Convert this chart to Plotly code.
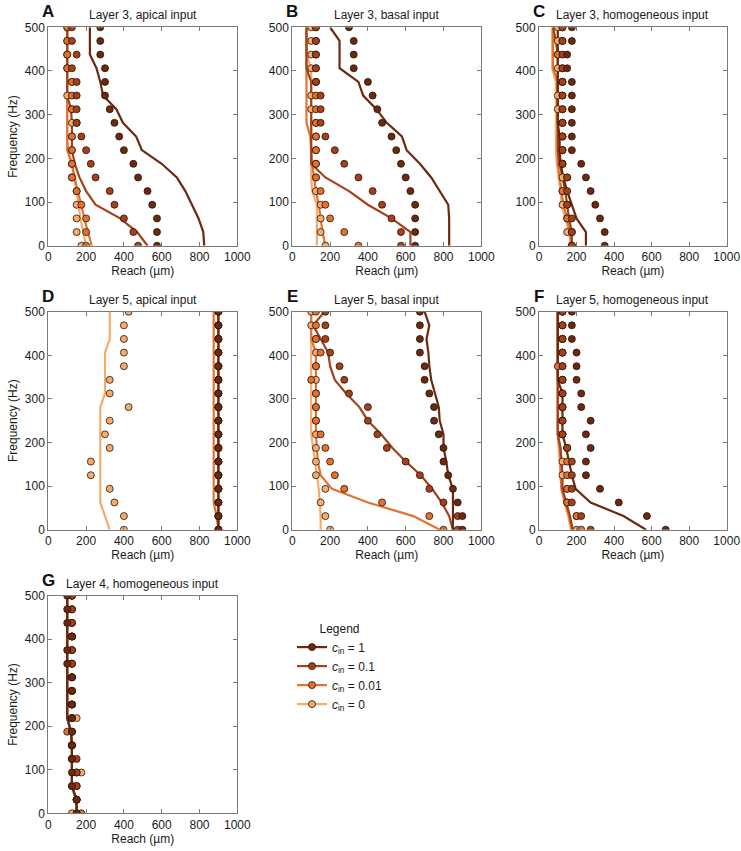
import plotly.graph_objects as go

FREQ = [0, 31.25, 62.5, 93.75, 125, 156.25, 187.5, 218.75, 250, 281.25,
        312.5, 343.75, 375, 406.25, 437.5, 468.75, 500]
CIN_LABELS = ["1", "0.1", "0.01", "0"]
COLORS = ["#6b2a0f", "#a3421a", "#e3722f", "#f4ac6e"]
X_TICKS = [0, 200, 400, 600, 800, 1000]
Y_TICKS = [0, 100, 200, 300, 400, 500]

# ---- Panel A: Layer 3, apical input
A_LINE_1 = [825, 820, 795, 760, 725, 680, 600, 495, 465, 395, 360, 290, 275, 255, 220, 220, 220]
A_LINE_2 = [525, 470, 380, 250, 200, 165, 140, 125, 125, 125, 120, 100, 100, 100, 100, 100, 100]
A_LINE_3 = [230, 210, 190, 175, 155, 140, 125, 100, 100, 100, 100, 100, 100, 100, 100, 100, 100]
A_LINE_4 = [200, 185, 170, 160, 150, 135, 125, 105, 100, 100, 100, 100, 100, 100, 100, 100, 100]
A_DOT_1 = [575, 575, 575, 550, 525, 475, 450, 400, 375, 350, 325, 300, 300, 300, 275, 275, 275]
A_DOT_2 = [475, 450, 400, 350, 325, 250, 225, 200, 175, 150, 150, 150, 150, 125, 150, 125, 125]
A_DOT_3 = [200, 200, 200, 175, 150, 125, 125, 125, 125, 150, 125, 125, 125, 100, 100, 100, 100]
A_DOT_4 = [175, 150, 150, 150, 150, 125, 125, 125, 125, 125, 125, 100, 125, 100, 100, 100, 100]

# ---- Panel B: Layer 3, basal input
B_LINE_1 = [830, 830, 830, 825, 780, 735, 675, 605, 580, 500, 445, 375, 350, 250, 250, 250, 200]
B_LINE_2 = [625, 625, 525, 400, 300, 175, 100, 100, 100, 100, 100, 100, 100, 75, 75, 75, 75]
B_LINE_3 = [175, 160, 150, 140, 125, 115, 105, 100, 95, 75, 75, 75, 75, 75, 75, 75, 75]
B_LINE_4 = [130, 130, 130, 130, 105, 100, 100, 100, 100, 100, 100, 100, 100, 100, 75, 75, 75]
B_DOT_1 = [650, 650, 650, 650, 625, 600, 575, 550, 525, 475, 450, 425, 400, 325, 325, 325, 300]
B_DOT_2 = [575, 575, 525, 475, 425, 350, 275, 225, 175, 150, 150, 150, 125, 125, 125, 125, 125]
B_DOT_3 = [350, 275, 200, 175, 150, 125, 125, 125, 125, 125, 125, 125, 125, 125, 125, 125, 125]
B_DOT_4 = [175, 150, 150, 150, 125, 125, 125, 125, 125, 125, 100, 100, 125, 100, 100, 100, 100]

# ---- Panel C: Layer 3, homogeneous input
C_LINE_1 = [250, 250, 200, 175, 150, 130, 115, 110, 110, 100, 100, 100, 100, 100, 100, 100, 100]
C_LINE_2 = [175, 175, 160, 150, 140, 125, 110, 100, 100, 100, 100, 100, 100, 100, 100, 90, 75]
C_LINE_3 = [175, 165, 150, 130, 120, 110, 100, 100, 100, 100, 100, 100, 100, 75, 75, 75, 75]
C_LINE_4 = [170, 160, 140, 120, 115, 105, 95, 90, 90, 90, 90, 90, 90, 70, 70, 70, 70]
C_DOT_1 = [350, 350, 325, 300, 275, 250, 225, 175, 175, 175, 175, 175, 175, 150, 150, 175, 175]
C_DOT_2 = [175, 175, 175, 150, 150, 150, 125, 125, 125, 125, 125, 125, 125, 125, 125, 125, 125]
C_DOT_3 = [175, 175, 150, 150, 125, 150, 125, 125, 125, 125, 125, 125, 125, 125, 100, 125, 125]
C_DOT_4 = [175, 150, 150, 125, 125, 125, 125, 125, 125, 125, 100, 100, 125, 100, 100, 100, 100]

# ---- Panel D: Layer 5, apical input
D_LINE_1 = [900, 900, 900, 900, 900, 900, 900, 900, 900, 900, 900, 900, 900, 900, 900, 900, 900]
D_LINE_2 = [900, 900, 900, 900, 900, 900, 900, 900, 900, 900, 900, 900, 900, 900, 900, 900, 900]
D_LINE_3 = [900, 890, 875, 875, 875, 875, 875, 875, 875, 875, 875, 875, 875, 875, 875, 875, 875]
D_LINE_4 = [325, 300, 275, 275, 275, 275, 275, 275, 275, 275, 300, 300, 300, 300, 325, 325, 325]
D_DOT_1 = [900, 900, 900, 900, 900, 900, 900, 900, 900, 900, 900, 900, 900, 900, 900, 900, 900]
D_DOT_2 = [900, 900, 900, 900, 900, 900, 900, 900, 900, 900, 900, 900, 900, 900, 900, 900, 900]
D_DOT_3 = [900, 900, 900, 900, 900, 900, 900, 900, 900, 900, 900, 900, 900, 900, 900, 900, 900]
D_DOT_4 = [400, 400, 350, 325, 225, 225, 325, 300, 325, 425, 325, 325, 400, 400, 400, 400, 425]

# ---- Panel E: Layer 5, basal input
E_LINE_1 = [850, 850, 850, 850, 825, 815, 800, 800, 780, 775, 755, 735, 725, 720, 710, 725, 700]
E_LINE_2 = [850, 830, 790, 740, 680, 600, 530, 470, 400, 355, 285, 225, 200, 190, 150, 110, 170]
E_LINE_3 = [780, 640, 400, 210, 150, 135, 130, 125, 125, 125, 125, 125, 125, 125, 100, 100, 100]
E_LINE_4 = [150, 150, 145, 140, 130, 120, 110, 100, 100, 100, 100, 100, 100, 100, 100, 100, 100]
E_DOT_1 = [900, 900, 875, 850, 825, 800, 800, 775, 750, 750, 725, 700, 700, 675, 675, 675, 675]
E_DOT_2 = [875, 875, 800, 725, 675, 600, 500, 450, 400, 400, 300, 275, 250, 200, 175, 175, 175]
E_DOT_3 = [800, 725, 475, 275, 225, 200, 175, 150, 125, 125, 125, 100, 125, 150, 125, 125, 125]
E_DOT_4 = [200, 175, 150, 175, 125, 125, 125, 125, 125, 125, 125, 125, 125, 125, 125, 100, 100]

# ---- Panel F: Layer 5, homogeneous input
F_LINE_1 = [570, 450, 275, 195, 175, 160, 145, 125, 125, 125, 125, 100, 100, 100, 100, 100, 100]
F_LINE_2 = [180, 165, 145, 125, 125, 120, 115, 100, 100, 100, 100, 100, 100, 100, 100, 100, 100]
F_LINE_3 = [175, 160, 140, 120, 115, 115, 110, 100, 100, 100, 100, 100, 100, 100, 100, 100, 100]
F_LINE_4 = [170, 155, 135, 120, 115, 110, 105, 100, 100, 100, 100, 100, 100, 100, 100, 100, 100]
F_DOT_1 = [675, 575, 425, 325, 250, 250, 275, 250, 275, 225, 225, 200, 200, 200, 175, 175, 175]
F_DOT_2 = [275, 225, 175, 175, 175, 175, 150, 125, 125, 125, 125, 125, 125, 125, 125, 125, 125]
F_DOT_3 = [225, 200, 150, 150, 150, 150, 150, 125, 125, 125, 125, 125, 100, 125, 125, 125, 125]
F_DOT_4 = [200, 200, 150, 150, 125, 125, 150, 125, 125, 125, 125, 125, 125, 125, 125, 125, 125]

# ---- Panel G: Layer 4, homogeneous input
G_LINE_1 = [150, 150, 125, 125, 125, 125, 120, 100, 100, 100, 100, 100, 100, 100, 100, 100, 100]
G_LINE_2 = [150, 150, 125, 125, 125, 125, 120, 100, 100, 100, 100, 100, 100, 100, 100, 100, 100]
G_LINE_3 = [150, 145, 125, 125, 125, 125, 120, 100, 100, 100, 100, 100, 100, 100, 100, 100, 100]
G_LINE_4 = [150, 145, 125, 125, 125, 125, 120, 100, 100, 100, 100, 100, 100, 100, 100, 100, 100]
G_DOT_1 = [150, 150, 125, 125, 125, 125, 125, 125, 125, 125, 125, 100, 100, 125, 100, 100, 100]
G_DOT_2 = [150, 150, 150, 150, 150, 125, 125, 125, 125, 125, 125, 125, 125, 125, 125, 125, 125]
G_DOT_3 = [175, 150, 150, 150, 125, 125, 100, 125, 125, 125, 125, 125, 125, 125, 125, 125, 125]
G_DOT_4 = [125, 150, 125, 175, 125, 125, 125, 150, 125, 125, 125, 125, 125, 125, 125, 125, 125]

PANELS = [
    ("A", "Layer 3, apical input", [A_LINE_1, A_LINE_2, A_LINE_3, A_LINE_4], [A_DOT_1, A_DOT_2, A_DOT_3, A_DOT_4], 0, 0),
    ("B", "Layer 3, basal input", [B_LINE_1, B_LINE_2, B_LINE_3, B_LINE_4], [B_DOT_1, B_DOT_2, B_DOT_3, B_DOT_4], 0, 1),
    ("C", "Layer 3, homogeneous input", [C_LINE_1, C_LINE_2, C_LINE_3, C_LINE_4], [C_DOT_1, C_DOT_2, C_DOT_3, C_DOT_4], 0, 2),
    ("D", "Layer 5, apical input", [D_LINE_1, D_LINE_2, D_LINE_3, D_LINE_4], [D_DOT_1, D_DOT_2, D_DOT_3, D_DOT_4], 1, 0),
    ("E", "Layer 5, basal input", [E_LINE_1, E_LINE_2, E_LINE_3, E_LINE_4], [E_DOT_1, E_DOT_2, E_DOT_3, E_DOT_4], 1, 1),
    ("F", "Layer 5, homogeneous input", [F_LINE_1, F_LINE_2, F_LINE_3, F_LINE_4], [F_DOT_1, F_DOT_2, F_DOT_3, F_DOT_4], 1, 2),
    ("G", "Layer 4, homogeneous input", [G_LINE_1, G_LINE_2, G_LINE_3, G_LINE_4], [G_DOT_1, G_DOT_2, G_DOT_3, G_DOT_4], 2, 0),
]

W, H = 741, 851
COL_PX = [(48.3, 237.3), (292.3, 481.3), (539.0, 726.7)]
ROW_PX = [(27.3, 245.7), (311.7, 529.7), (595.7, 813.3)]
FONT = "Liberation Sans, Arial, Helvetica, sans-serif"
AXIS_GREY = "#7a7a7a"

fig = go.Figure()
layout = dict(
    width=W, height=H, margin=dict(l=0, r=0, t=0, b=0),
    paper_bgcolor="white", plot_bgcolor="white",
    font=dict(family=FONT, size=12, color="#1a1a1a"),
    showlegend=True,
)
annotations = []

for i, (letter, title, lines, dots, r, c) in enumerate(PANELS, start=1):
    xa = "x" if i == 1 else f"x{i}"
    ya = "y" if i == 1 else f"y{i}"
    x0, x1 = COL_PX[c]
    y0, y1 = ROW_PX[r]
    common = dict(showline=True, linecolor=AXIS_GREY, linewidth=1, mirror="ticks",
                  ticks="inside", ticklen=4, tickcolor=AXIS_GREY, tickwidth=1,
                  showgrid=False, zeroline=False, fixedrange=True,
                  tickfont=dict(size=12, color="#1a1a1a"), automargin=False)
    layout["xaxis" if i == 1 else f"xaxis{i}"] = dict(
        domain=[x0 / W, x1 / W], anchor=ya, range=[0, 1000], tickvals=X_TICKS,
        title=dict(text="Reach (µm)", standoff=3, font=dict(size=12)), **common)
    layout["yaxis" if i == 1 else f"yaxis{i}"] = dict(
        domain=[1 - y1 / H, 1 - y0 / H], anchor=xa, range=[0, 500], tickvals=Y_TICKS,
        title=dict(text="Frequency (Hz)" if c == 0 else "", standoff=4, font=dict(size=12)),
        **common)
    for k in [3, 2, 1, 0]:
        fig.add_trace(go.Scatter(x=lines[k], y=FREQ, mode="lines", xaxis=xa, yaxis=ya,
                                 line=dict(color=COLORS[k], width=2.2), showlegend=False,
                                 hoverinfo="skip"))
    for k in [3, 2, 1, 0]:
        fig.add_trace(go.Scatter(x=dots[k], y=FREQ, mode="markers", xaxis=xa, yaxis=ya,
                                 marker=dict(color=COLORS[k], size=7,
                                             line=dict(color="#2a1206", width=0.8)),
                                 showlegend=False, hoverinfo="skip"))
    annotations.append(dict(text=f"<b>{letter}</b>", xref=f"{xa} domain", yref=f"{ya} domain",
                            x=0, y=1, xanchor="center", yanchor="bottom", yshift=4,
                            showarrow=False, font=dict(size=17, color="#111")))
    annotations.append(dict(text=title, xref=f"{xa} domain", yref=f"{ya} domain",
                            x=0.5, y=1, xanchor="center", yanchor="bottom", yshift=3,
                            showarrow=False, font=dict(size=12, color="#1a1a1a")))

for k, lab in enumerate(CIN_LABELS):
    fig.add_trace(go.Scatter(x=[None], y=[None], mode="lines+markers",
                             name=f"<i>c</i><sub>in</sub> = {lab}",
                             line=dict(color=COLORS[k], width=2.2),
                             marker=dict(color=COLORS[k], size=7,
                                         line=dict(color="#2a1206", width=0.8))))

layout["legend"] = dict(x=292 / W, y=1 - 617 / H, xanchor="left", yanchor="top",
                        bgcolor="rgba(0,0,0,0)", itemwidth=30,
                        title=dict(text="Legend", side="top center", font=dict(size=12)),
                        font=dict(size=12), tracegroupgap=0)
layout["annotations"] = annotations
fig.update_layout(**layout)
# remove the default page margin so the figure sits at the window origin
fig.write_html("out.html", config={"displayModeBar": False},
               post_script="document.body.style.margin='0';")
